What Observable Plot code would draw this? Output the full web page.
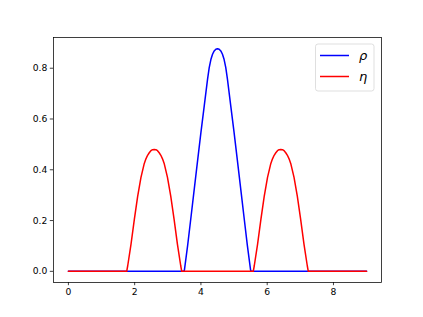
<!DOCTYPE html>
<html>
<head>
<meta charset="utf-8">
<script src="https://cdn.jsdelivr.net/npm/d3@7"></script>
<script src="https://cdn.jsdelivr.net/npm/@observablehq/plot@0.6"></script>
<style>
  html, body { margin: 0; padding: 0; background: white; }
</style>
</head>
<body>
<div id="chart"></div>
<script>
// Series values
const rhoX = [0, 3.49, 3.50, 3.60, 3.70, 3.80, 3.90, 4.00, 4.10, 4.20, 4.25, 4.30, 4.35, 4.40, 4.45, 4.50,
              4.55, 4.60, 4.65, 4.70, 4.75, 4.80, 4.90, 5.00, 5.10, 5.20, 5.30, 5.40, 5.50, 5.51, 9];
const rhoY = [0, 0, 0.004, 0.103, 0.214, 0.326, 0.437, 0.547, 0.652, 0.757, 0.802, 0.834, 0.855, 0.868, 0.875, 0.877,
              0.875, 0.868, 0.855, 0.834, 0.802, 0.757, 0.652, 0.547, 0.437, 0.326, 0.214, 0.103, 0.004, 0, 0];

const etaX = [0, 1.76, 1.79, 1.89, 1.99, 2.09, 2.19, 2.29, 2.34, 2.39, 2.44, 2.49, 2.54, 2.59, 2.64, 2.69, 2.74, 2.79, 2.84, 2.89,
              2.99, 3.09, 3.19, 3.29, 3.39, 3.42,
              5.58, 5.61, 5.71, 5.81, 5.91, 6.01, 6.11, 6.16, 6.21, 6.26, 6.31, 6.36, 6.41, 6.46, 6.51, 6.56, 6.61, 6.66, 6.71,
              6.81, 6.91, 7.01, 7.11, 7.21, 7.24, 9];
const etaY = [0, 0, 0.022, 0.107, 0.205, 0.295, 0.370, 0.425, 0.443, 0.457, 0.467, 0.475, 0.479, 0.480, 0.479, 0.475, 0.467, 0.457, 0.443, 0.425,
              0.370, 0.295, 0.205, 0.107, 0.022, 0,
              0, 0.022, 0.107, 0.205, 0.295, 0.370, 0.425, 0.443, 0.457, 0.467, 0.475, 0.479, 0.480, 0.479, 0.475, 0.467, 0.457, 0.443, 0.425,
              0.370, 0.295, 0.205, 0.107, 0.022, 0, 0];

const xTicks = [0, 2, 4, 6, 8];
const yTicks = [0, 0.2, 0.4, 0.6, 0.8];
const seriesNames = ["ρ", "η"];
const seriesColors = ["#0000ff", "#ff0000"];

const rho = rhoX.map((x, i) => ({x, y: rhoY[i]}));
const eta = etaX.map((x, i) => ({x, y: etaY[i]}));

const W = 423, H = 317;
const plot = Plot.plot({
  width: W,
  height: H,
  marginLeft: 53,
  marginRight: 42,
  marginTop: 37,
  marginBottom: 35,
  style: {fontFamily: "DejaVu Sans", fontSize: "9.2px", color: "black", background: "white", overflow: "visible"},
  x: {domain: [-0.45, 9.45]},
  y: {domain: [-0.044, 0.921]},
  marks: [
    Plot.axisX({ticks: xTicks, tickSize: 3.2, tickPadding: 3, tickFormat: d => String(d), label: null, strokeWidth: 0.75}),
    Plot.axisY({ticks: yTicks, tickSize: 3.2, tickPadding: 3, tickFormat: d => d.toFixed(1), label: null, strokeWidth: 0.75}),
    Plot.line(rho, {x: "x", y: "y", stroke: seriesColors[0], strokeWidth: 1.5, strokeLinejoin: "round"}),
    Plot.line(eta, {x: "x", y: "y", stroke: seriesColors[1], strokeWidth: 1.5, strokeLinejoin: "round"}),
    Plot.frame({stroke: "black", strokeWidth: 0.75})
  ]
});
document.getElementById("chart").appendChild(plot);

// Legend (matplotlib-style, upper right inside the axes)
const svg = d3.select(plot);
const lg = svg.append("g");
lg.append("rect")
  .attr("x", 315.5).attr("y", 44).attr("width", 58.5).attr("height", 47)
  .attr("rx", 2.5).attr("fill", "white").attr("fill-opacity", 0.8)
  .attr("stroke", "#d4d4d4").attr("stroke-width", 0.75);
seriesNames.forEach((name, i) => {
  const cy = 55.5 + i * 21;
  lg.append("line")
    .attr("x1", 320).attr("x2", 349).attr("y1", cy).attr("y2", cy)
    .attr("stroke", seriesColors[i]).attr("stroke-width", 1.5);
  lg.append("text")
    .attr("x", 359).attr("y", cy + 4)
    .attr("font-family", "DejaVu Sans").attr("font-style", "italic").attr("font-size", "13px")
    .attr("fill", "black").attr("text-anchor", "start")
    .text(name);
});
</script>
</body>
</html>
